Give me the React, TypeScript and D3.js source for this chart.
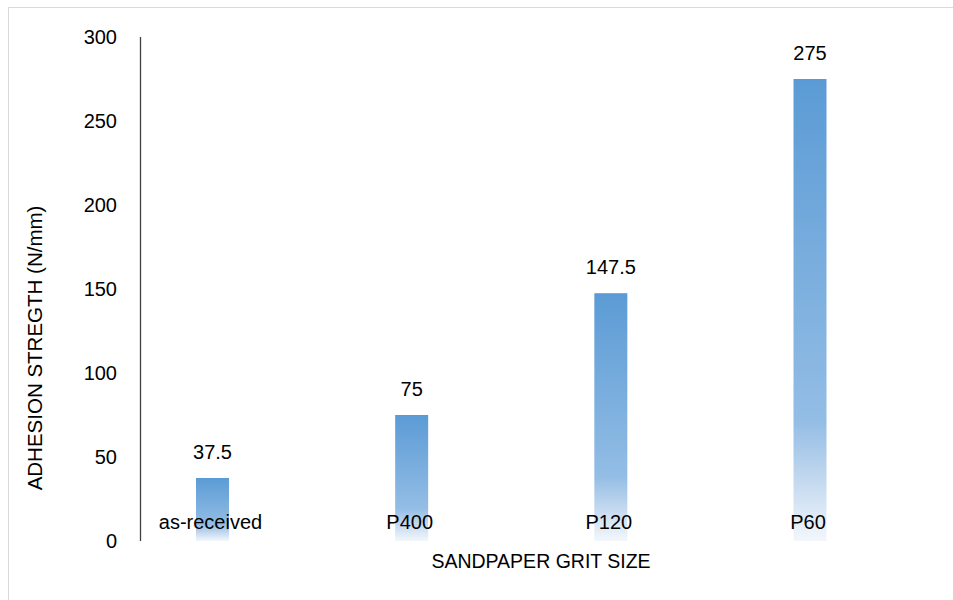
import React from "react";
import * as d3 from "d3";

const categories = ["as-received", "P400", "P120", "P60"];
const values = [37.5, 75, 147.5, 275];
const valueLabels = ["37.5", "75", "147.5", "275"];
const yTicks = [0, 50, 100, 150, 200, 250, 300];

const FONT = "'Liberation Sans', Arial, sans-serif";

export default function App() {
  const y = d3.scaleLinear().domain([0, 300]).range([541, 37]);
  const x = d3.scalePoint<string>().domain(categories).range([212.5, 810]);
  const barW = 33;

  return (
    <svg
      width={953}
      height={600}
      style={{ position: "absolute", left: 0, top: 0, display: "block", background: "#fff" }}
    >
      <defs>
        <linearGradient id="barGrad" x1="0" y1="0" x2="0" y2="1">
          <stop offset="0" stopColor="#5b9bd5" />
          <stop offset="0.74" stopColor="#93bde5" />
          <stop offset="0.83" stopColor="#b5d0ec" />
          <stop offset="1" stopColor="#f3f7fc" />
        </linearGradient>
      </defs>
      <rect x={8.5} y={7.5} width={960} height={600} fill="#fff" stroke="#d9d9d9" strokeWidth={1} />

      {categories.map((c, i) => (
        <rect
          key={c}
          x={(x(c) as number) - barW / 2}
          y={y(values[i])}
          width={barW}
          height={y(0) - y(values[i])}
          fill="url(#barGrad)"
        />
      ))}

      <line x1={140.5} x2={140.5} y1={y(300)} y2={y(0)} stroke="#404040" strokeWidth={1.3} />

      {yTicks.map((t) => (
        <text
          key={t}
          x={117}
          y={y(t)}
          dy="0.35em"
          textAnchor="end"
          fontFamily={FONT}
          fontSize={20}
          fill="#000"
        >
          {t}
        </text>
      ))}

      {categories.map((c, i) => (
        <text
          key={"v" + c}
          x={x(c) as number}
          y={y(values[i]) - 26}
          dy="0.35em"
          textAnchor="middle"
          fontFamily={FONT}
          fontSize={20}
          fill="#000"
        >
          {valueLabels[i]}
        </text>
      ))}

      {categories.map((c) => (
        <text
          key={"c" + c}
          x={(x(c) as number) - 2}
          y={522}
          dy="0.35em"
          textAnchor="middle"
          fontFamily={FONT}
          fontSize={20}
          fill="#000"
        >
          {c}
        </text>
      ))}

      <text
        x={541}
        y={561}
        dy="0.35em"
        textAnchor="middle"
        fontFamily={FONT}
        fontSize={19.5}
        fill="#000"
      >
        SANDPAPER GRIT SIZE
      </text>
      <text
        transform="translate(35,348) rotate(-90)"
        dy="0.35em"
        textAnchor="middle"
        fontFamily={FONT}
        fontSize={20.5}
        fill="#000"
      >
        ADHESION STREGTH (N/mm)
      </text>
    </svg>
  );
}
